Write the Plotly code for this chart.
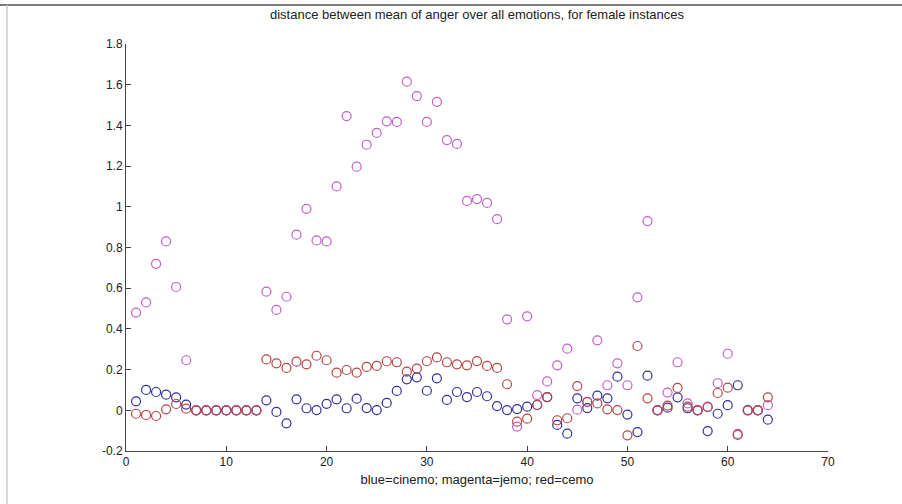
import plotly.graph_objects as go

x_idx = list(range(1, 65))

cinemo = [0.044, 0.10, 0.09, 0.077, 0.064, 0.028, 0, 0, 0, 0, 0, 0, 0,
          0.049, -0.008, -0.064, 0.054, 0.01, 0.001, 0.032, 0.054, 0.01, 0.057,
          0.011, 0.001, 0.036, 0.095, 0.152, 0.162, 0.096, 0.157, 0.051, 0.09,
          0.065, 0.09, 0.069, 0.021, 0.001, 0.006, 0.018, 0.026, 0.065,
          -0.072, -0.115, 0.059, 0.011, 0.072, 0.059, 0.165, -0.021, -0.107,
          0.17, 0.0, 0.013, 0.064, 0.01, 0.0, -0.102, -0.017, 0.025, 0.123,
          0.0, 0.0, -0.046]

jemo = [0.48, 0.53, 0.72, 0.83, 0.606, 0.246, 0, 0, 0, 0, 0, 0, 0,
        0.583, 0.493, 0.558, 0.863, 0.99, 0.835, 0.83, 1.10, 1.446, 1.197,
        1.305, 1.363, 1.42, 1.417, 1.615, 1.544, 1.417, 1.516, 1.328, 1.309,
        1.029, 1.038, 1.019, 0.939, 0.447, -0.08, 0.462, 0.075, 0.142,
        0.221, 0.303, 0.003, 0.04, 0.344, 0.123, 0.231, 0.123, 0.555,
        0.93, 0.0, 0.087, 0.236, 0.034, 0.0, 0.018, 0.133, 0.278, -0.116,
        0.0, 0.0, 0.025]

cemo = [-0.017, -0.023, -0.028, 0.005, 0.031, 0.008, 0, 0, 0, 0, 0, 0, 0,
        0.25, 0.231, 0.208, 0.239, 0.226, 0.268, 0.246, 0.185, 0.198, 0.185,
        0.213, 0.218, 0.241, 0.236, 0.19, 0.205, 0.241, 0.26, 0.236, 0.226,
        0.221, 0.242, 0.218, 0.208, 0.128, -0.056, -0.041, 0.026, 0.065,
        -0.049, -0.039, 0.119, 0.042, 0.034, 0.005, 0.001, -0.123, 0.316,
        0.059, 0.001, 0.023, 0.11, 0.018, 0.001, 0.016, 0.085, 0.111, -0.121,
        0.001, 0.001, 0.064]

x_ticks = [0, 10, 20, 30, 40, 50, 60, 70]
y_ticks = [-0.2, 0, 0.2, 0.4, 0.6, 0.8, 1, 1.2, 1.4, 1.6, 1.8]
y_tick_text = ["-0.2", "0", "0.2", "0.4", "0.6", "0.8", "1", "1.2", "1.4", "1.6", "1.8"]

series = [
    ("cinemo", cinemo, "#30309a"),
    ("jemo", jemo, "#c25fc8"),
    ("cemo", cemo, "#b84444"),
]

fig = go.Figure()
for name, vals, col in series:
    fig.add_trace(go.Scatter(
        x=x_idx, y=vals, mode="markers", name=name,
        marker=dict(symbol="circle-open", size=9, color=col, line=dict(width=1.2, color=col)),
        showlegend=False,
    ))

font_family = "Liberation Sans, Arial, sans-serif"
fig.update_layout(
    width=902, height=504,
    margin=dict(l=126, r=74, t=44, b=53),
    paper_bgcolor="white", plot_bgcolor="white",
    title=dict(text="distance between mean of anger over all emotions, for female instances",
               x=(126 + 351) / 902, xanchor="center", y=1 - 14 / 504, yanchor="middle",
               font=dict(family=font_family, size=13, color="#222")),
    font=dict(family=font_family, size=12, color="#222"),
    xaxis=dict(range=[0, 70], tickvals=x_ticks, ticks="inside", ticklen=5,
               tickcolor="#444", showline=True, linecolor="#444", linewidth=1,
               showgrid=False, zeroline=False, mirror=False,
               title=dict(text="blue=cinemo; magenta=jemo; red=cemo",
                          font=dict(family=font_family, size=13, color="#222"), standoff=6),
               tickfont=dict(size=12)),
    yaxis=dict(range=[-0.2, 1.8], tickvals=y_ticks, ticktext=y_tick_text, ticks="inside",
               ticklen=5, tickcolor="#444", showline=True, linecolor="#444", linewidth=1,
               showgrid=False, zeroline=False, tickfont=dict(size=12)),
    shapes=[
        dict(type="line", xref="paper", yref="paper", layer="above",
             x0=(0 - 126) / 702, x1=(902 - 126) / 702,
             y0=(451 - 5) / 407, y1=(451 - 5) / 407,
             line=dict(color="#7a7a7a", width=2)),
        dict(type="line", xref="paper", yref="paper", layer="above",
             x0=(7 - 126) / 702, x1=(7 - 126) / 702,
             y0=(451 - 5) / 407, y1=(451 - 504) / 407,
             line=dict(color="#cccccc", width=1.5)),
    ],
)

fig.write_html("out.html", config={"displayModeBar": False},
               post_script="document.body.style.margin='0';document.body.style.padding='0';")
